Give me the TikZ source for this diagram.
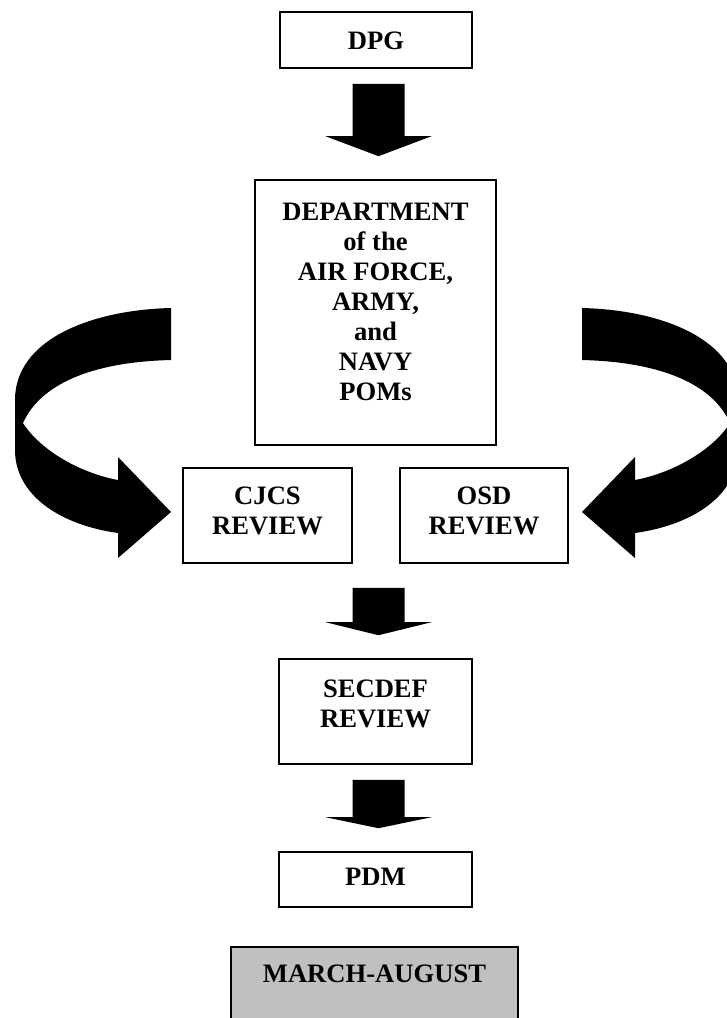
\documentclass[tikz,border=0pt]{standalone}
\usepackage{fontspec}
\setmainfont{Liberation Serif}
\usepackage{xcolor}
\usetikzlibrary{calc}
\definecolor{boxgray}{HTML}{C0C0C0}
\tikzset{
  box/.style={draw, line width=1.6pt, inner sep=0pt,
    font=\bfseries\fontsize{26.6}{30}\selectfont},
  greybox/.style={box, fill=boxgray}
}
% height, width, space above the first line, text
\newcommand{\boxtext}[4]{\parbox[c][#1pt][t]{#2pt}{\centering\vspace*{#3pt}#4}}
% block arrow from #1 down to node #2, gap above, head length
\newcommand{\blockdown}[4]{%
  \fill let \p1=(#1), \p2=(#2.north) in
    (\x2-23pt,\y1-#3pt) -- (\x2+29pt,\y1-#3pt)
    -- (\x2+29pt,\y2+23pt+#4pt) -- (\x2+56pt,\y2+23pt+#4pt)
    -- (\x2+3pt,\y2+23pt)
    -- (\x2-50pt,\y2+23pt+#4pt) -- (\x2-23pt,\y2+23pt+#4pt) -- cycle;}

\begin{document}
\begin{tikzpicture}[x=1pt, y=-1pt]
	\useasboundingbox (0,0) rectangle (727,1018);
	\node[box] (dpg) at (376,40) {\boxtext{56}{192}{20}{DPG}};
	\node[box] (dept) at (375.5,312.5) {\boxtext{265}{241}{23}{DEPARTMENT\\of the\\AIR FORCE,\\ARMY,\\and\\NAVY\\POMs}};
	\node[box] (cjcs) at (267.5,515.5) {\boxtext{95}{169}{19}{CJCS\\REVIEW}};
	\node[box] (osd) at (484,515.5) {\boxtext{95}{168}{19}{OSD\\REVIEW}};
	\node[box] (secdef) at (375.5,711.5) {\boxtext{105}{193}{21}{SECDEF\\REVIEW}};
	\node[box] (pdm) at (375.5,879.5) {\boxtext{55}{193}{16}{PDM}};
	\node[greybox] (months) at (374.5,992) {\boxtext{90}{287}{18}{MARCH-AUGUST}};
	%
	\coordinate (rv) at ($(cjcs.south)!0.5!(osd.south)$);
	\blockdown{dpg.south}{dept}{15}{20}
	\blockdown{rv}{secdef}{24}{13}
	\blockdown{secdef.south}{pdm}{15}{11}
	%
	\foreach \s/\o in {1/0, -1/753} {
		\fill[xshift=\o pt, xscale=\s] (171,308) .. controls (90,310) and (15,340) .. (15,400)
			-- (15,450) .. controls (15,495) and (60,525) .. (118,533)
			-- (118,558) -- (171,512) -- (118,457) -- (118,480)
			.. controls (80,473) and (40,450) .. (23,423)
			.. controls (40,385) and (90,362) .. (171,360) -- cycle;
	}
\end{tikzpicture}
\end{document}
